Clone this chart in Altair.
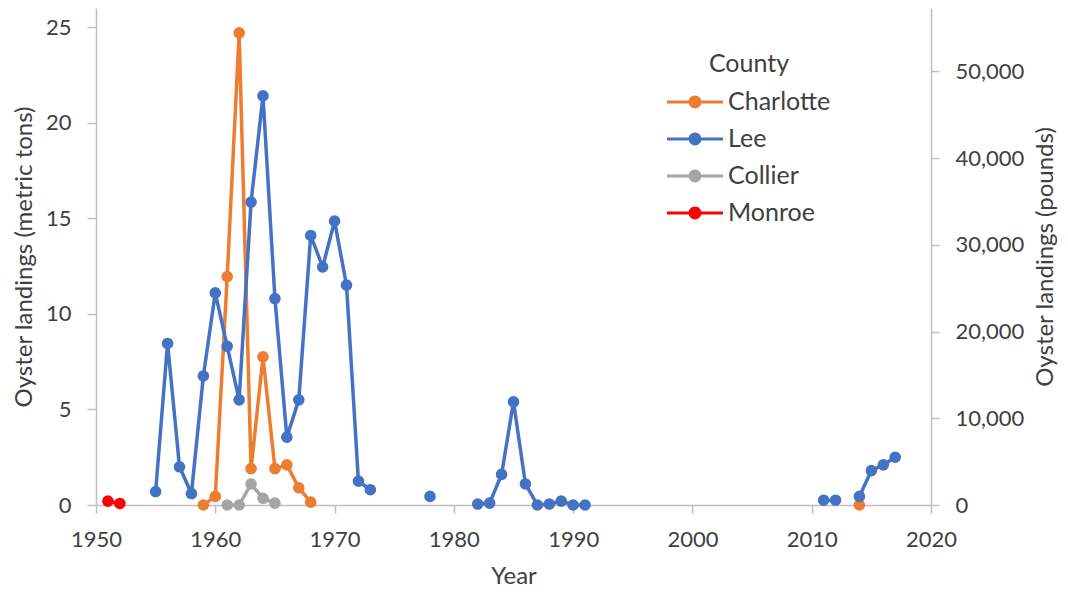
import altair as alt
import pandas as pd

# ---- data ----
counties = ["Charlotte", "Lee", "Collier", "Monroe"]
colors = ["#ED7D31", "#4472C4", "#A5A5A5", "#FF0000"]

charlotte_years = [1959, 1960, 1961, 1962, 1963, 1964, 1965, 1966, 1967, 1968, 2014]
charlotte_tons = [0.0, 0.45, 11.95, 24.7, 1.9, 7.75, 1.9, 2.1, 0.9, 0.15, 0.0]

lee_years = [1955, 1956, 1957, 1958, 1959, 1960, 1961, 1962, 1963, 1964, 1965, 1966,
             1967, 1968, 1969, 1970, 1971, 1972, 1973, 1978, 1982, 1983, 1984, 1985,
             1986, 1987, 1988, 1989, 1990, 1991, 2011, 2012, 2014, 2015, 2016, 2017]
lee_tons = [0.7, 8.45, 2.0, 0.6, 6.75, 11.1, 8.3, 5.5, 15.85, 21.4, 10.8, 3.55,
            5.5, 14.1, 12.45, 14.85, 11.5, 1.25, 0.8, 0.45, 0.05, 0.1, 1.6, 5.4,
            1.1, 0.0, 0.05, 0.2, 0.0, 0.0, 0.25, 0.25, 0.45, 1.8, 2.1, 2.5]

collier_years = [1961, 1962, 1963, 1964, 1965]
collier_tons = [0.0, 0.0, 1.1, 0.35, 0.1]

monroe_years = [1951, 1952]
monroe_tons = [0.2, 0.08]

x_ticks = [1950, 1960, 1970, 1980, 1990, 2000, 2010, 2020]
y_ticks = [0, 5, 10, 15, 20, 25]
lb_ticks = [0, 10000, 20000, 30000, 40000, 50000]
LB_PER_TON = 2204.62
Y_MAX = 26.0

series = [("Charlotte", charlotte_years, charlotte_tons),
          ("Lee", lee_years, lee_tons),
          ("Collier", collier_years, collier_tons),
          ("Monroe", monroe_years, monroe_tons)]

rows = []
for county, years, vals in series:
    seg = 0
    prev = None
    for yr, v in zip(years, vals):
        if prev is not None and yr - prev > 1:
            seg += 1
        rows.append({"County": county, "Year": yr, "Tons": v,
                     "Pounds": v * LB_PER_TON, "Segment": f"{county}-{seg}"})
        prev = yr
df = pd.DataFrame(rows)

TEXT = "#404040"
AXIS = "#BFBFBF"
LABEL_SIZE = 22
TITLE_SIZE = 24

x_enc = alt.X("Year:Q",
              scale=alt.Scale(domain=[1950, 2020], nice=False, zero=False),
              axis=alt.Axis(values=x_ticks, format="d", title="Year", grid=False,
                            labelFlush=False,
                            domainColor=AXIS, domainWidth=1.5, tickColor=AXIS,
                            tickWidth=1.5, tickSize=8, labelPadding=16,
                            labelFontSize=LABEL_SIZE, labelColor=TEXT,
                            titleFontSize=TITLE_SIZE, titleColor=TEXT,
                            titleFontWeight="normal", titlePadding=14))

y_enc = alt.Y("Tons:Q",
              scale=alt.Scale(domain=[0, Y_MAX], nice=False),
              axis=alt.Axis(values=y_ticks, title="Oyster landings (metric tons)",
                            grid=False, labelFlush=False,
                            domainColor=AXIS, domainWidth=1.5,
                            tickColor=AXIS, tickWidth=1.5, tickSize=9,
                            labelPadding=16, labelFontSize=LABEL_SIZE,
                            labelColor=TEXT, titleFontSize=TITLE_SIZE,
                            titleColor=TEXT, titleFontWeight="normal",
                            titlePadding=9))

color_scale = alt.Scale(domain=counties, range=colors)

SYMBOL = ("M-1,-0.055L1,-0.055L1,0.055L-1,0.055Z "
          "M-0.23,0A0.23,0.23 0 1,1 0.23,0A0.23,0.23 0 1,1 -0.23,0Z")

legend = alt.Legend(title="County", orient="none",
                    legendX=571, legendY=44, padding=0,
                    symbolType=SYMBOL, symbolSize=3136,
                    symbolStrokeWidth=0, symbolOpacity=1,
                    clipHeight=24,
                    labelFontSize=25, labelColor=TEXT,
                    labelOffset=5, titleFontSize=25,
                    titleColor=TEXT, titleFontWeight="normal",
                    titleAnchor="middle", titlePadding=13,
                    rowPadding=12)

color_enc = alt.Color("County:N", scale=color_scale, legend=legend)

lines = alt.Chart(df).mark_line(strokeWidth=3.5).encode(
    x=x_enc, y=y_enc, color=color_enc, detail="Segment:N",
)

points = alt.Chart(df).mark_point(filled=True, size=135, opacity=1).encode(
    x=x_enc, y=y_enc, color=color_enc,
)

right = alt.Chart(df).mark_point(opacity=0).encode(
    x=x_enc,
    y=alt.Y("Pounds:Q",
            scale=alt.Scale(domain=[0, Y_MAX * LB_PER_TON], nice=False),
            axis=alt.Axis(orient="right", values=lb_ticks, format=",.0f",
                          title="Oyster landings (pounds)", titleAngle=270,
                          grid=False, labelFlush=False,
                          domainColor=AXIS, domainWidth=1.5,
                          tickColor=AXIS, tickWidth=1.5, tickSize=8,
                          labelPadding=16, labelFontSize=LABEL_SIZE,
                          labelColor=TEXT, titleFontSize=TITLE_SIZE,
                          titleColor=TEXT, titleFontWeight="normal",
                          titlePadding=34)),
)

chart = alt.layer(alt.layer(lines, points), right).resolve_scale(
    y="independent"
).properties(
    width=835, height=497,
    autosize=alt.AutoSizeParams(type="none"),
    padding={"left": 88, "top": 0, "right": 129, "bottom": 83},
).configure(font="Lato").configure_view(strokeWidth=0)

chart.save("out.html", embed_options={"renderer": "svg", "actions": False})
